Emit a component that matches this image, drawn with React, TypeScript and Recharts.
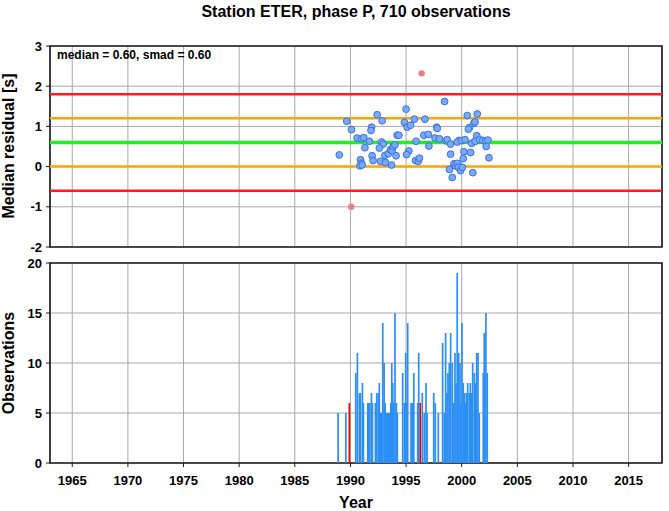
import React from 'react';
import {
  ComposedChart,
  Scatter,
  Bar,
  XAxis,
  YAxis,
  CartesianGrid,
  ReferenceLine,
  ReferenceArea,
} from 'recharts';

// ---------- data ----------
const xTicks = [1965, 1970, 1975, 1980, 1985, 1990, 1995, 2000, 2005, 2010, 2015];
const residualTicks = [-2, -1, 0, 1, 2, 3];
const countTicks = [0, 5, 10, 15, 20];

const pointYears = [
  1989.0, 1989.67, 1990.1, 1990.6, 1991.0, 1991.2, 1991.3, 1990.9, 1991.0, 1990.85,
  1991.05, 1991.7, 1991.9, 1991.85, 1991.95, 1992.04, 1992.4, 1992.85, 1992.8, 1992.95,
  1992.6, 1992.7, 1993.15, 1993.7, 1993.1, 1993.4, 1993.6, 1993.75, 1993.85, 1994.0,
  1994.1, 1994.2, 1994.35, 1995.0, 1994.85, 1995.1, 1995.25, 1995.05, 1995.75, 1995.4,
  1995.9, 1995.85, 1996.1, 1996.2, 1996.7, 1996.6, 1997.0, 1997.05, 1997.75, 1997.8,
  1997.6, 1998.0, 1998.46, 1998.6, 1998.7, 1999.0, 1999.0, 1998.9, 1999.15, 1999.3,
  1999.45, 1999.6, 1999.7, 1999.9, 2000.05, 2000.14, 2000.2, 2000.8, 1999.75, 1999.6,
  2000.0, 2000.3, 2000.5, 2000.7, 2000.6, 2001.0, 2001.1, 2001.2, 2001.4, 2001.35,
  2000.9, 2001.2, 2001.6, 2001.9, 2002.15, 2002.36, 2002.2, 2002.45,
];
const pointResiduals = [
  0.29, 1.13, 0.92, 0.71, 0.69, 0.72, 0.47, 0.17, 0.08, 0.02,
  0.04, 0.63, 0.98, 0.9, 0.27, 0.15, 1.29, 1.14, 0.61, 0.56,
  0.46, 0.13, 0.1, 0.04, 0.28, 0.32, 0.42, 0.4, 0.5, 0.54,
  0.27, 0.78, 0.78, 1.43, 1.1, 0.98, 0.39, 0.3, 1.18, 1.03,
  0.63, 0.15, 0.13, 0.21, 1.18, 0.78, 0.8, 0.51, 0.98, 0.95,
  0.71, 0.69, 1.62, 0.64, 0.67, 0.56, 0.31, -0.07, -0.27, 0.07,
  0.02, 0.08, -0.02, -0.1, -0.02, 0.2, 0.37, 0.35, 0.65, 0.61,
  0.65, 0.67, 1.27, 0.97, 0.93, -0.15, 1.08, 1.11, 1.31, 0.77,
  0.58, 0.63, 0.67, 0.65, 0.64, 0.66, 0.5, 0.22,
];

const outlierYears = [1990.07, 1996.4];
const outlierResiduals = [-1.0, 2.32];

const barYears = [
  1988.9, 1989.59, 1989.91, 1990.48, 1990.63, 1990.81, 1990.9, 1991.08, 1991.17, 1991.56,
  1991.65, 1991.74, 1991.89, 1991.98, 1992.25, 1992.37, 1992.51, 1992.6, 1992.73, 1992.82,
  1992.91, 1993.03, 1993.12, 1993.23, 1993.32, 1993.41, 1993.54, 1993.63, 1993.72, 1993.81,
  1993.9, 1994.01, 1994.13, 1994.22, 1994.7, 1994.85, 1994.97, 1995.06, 1995.15, 1995.45,
  1995.56, 1995.7, 1996.05, 1996.14, 1996.28, 1996.46, 1996.64, 1996.8, 1996.89, 1997.49,
  1997.63, 1997.9, 1998.29, 1998.44, 1998.56, 1998.68, 1998.77, 1998.89, 1999.01, 1999.16,
  1999.28, 1999.4, 1999.49, 1999.6, 1999.73, 1999.85, 1999.94, 2000.03, 2000.15, 2000.24,
  2000.33, 2000.42, 2000.54, 2000.69, 2000.78, 2000.9, 2000.99, 2001.14, 2001.26, 2001.35,
  2001.47, 2001.58, 2001.94, 2002.03, 2002.18, 2002.3,
];
const barCounts = [
  5, 5, 6, 9, 11, 7, 7, 8, 6, 6,
  6, 6, 7, 6, 6, 7, 7, 8, 5, 5,
  14, 10, 6, 5, 5, 5, 5, 6, 10, 8,
  6, 15, 6, 5, 9, 6, 11, 6, 14, 6,
  6, 9, 6, 11, 6, 7, 5, 8, 5, 7,
  6, 5, 12, 5, 13, 7, 9, 10, 13, 10,
  6, 11, 8, 19, 11, 10, 6, 14, 8, 7,
  6, 7, 8, 7, 8, 7, 10, 9, 8, 11,
  11, 5, 9, 13, 15, 9,
];
const redBarYears = [1989.91, 1996.28];

// ---------- tables built from the arrays ----------
const points = pointYears.map((year, i) => ({ year, res: pointResiduals[i] }));
const outliers = outlierYears.map((year, i) => ({ year, res: outlierResiduals[i] }));
const bars = barYears.map((year, i) => ({
  year,
  count: barCounts[i],
  red: redBarYears.includes(year),
}));

const FONT = '"Liberation Sans", Arial, Helvetica, sans-serif';
const tickStyle = { fontSize: 13, fontWeight: 700, fill: '#000', fontFamily: FONT };
const GRID = '#a9a9a9';
const FRAME = '#1a1a1a';

const BlueDot = (p: any) =>
  p.cx == null ? null : (
    <circle cx={p.cx} cy={p.cy} r={3.4} fill="#78abf5" stroke="#3b6fe4" strokeWidth={1} />
  );
const RedDot = (p: any) =>
  p.cx == null ? null : <circle cx={p.cx} cy={p.cy} r={3.2} fill="#f57b7b" />;

const ThinBar = (p: any) => {
  if (p.x == null || !p.height) return null;
  const cx = p.x + p.width / 2;
  return (
    <rect
      x={cx - 0.85}
      y={p.y}
      width={1.7}
      height={p.height}
      fill={p.payload && p.payload.red ? '#ff0000' : '#2b8ff5'}
    />
  );
};

export default function App() {
  return (
    <div
      style={{
        position: 'absolute',
        left: 0,
        top: 0,
        width: 669,
        height: 511,
        background: '#fff',
        fontFamily: FONT,
        overflow: 'hidden',
      }}
    >
      <div
        style={{
          position: 'absolute',
          left: 50,
          width: 612,
          top: 3,
          textAlign: 'center',
          fontSize: 16,
          fontWeight: 700,
          lineHeight: '18px',
        }}
      >
        Station ETER, phase P, 710 observations
      </div>

      {/* top panel */}
      <div style={{ position: 'absolute', left: 0, top: 0 }}>
        <ComposedChart width={669} height={256} margin={{ top: 46, right: 7, bottom: 9, left: 8 }}>
          <CartesianGrid stroke={GRID} strokeWidth={1} />
          <XAxis
            dataKey="year"
            type="number"
            domain={[1963, 2018]}
            ticks={xTicks}
            allowDataOverflow
            height={0}
            axisLine={false}
            tickSize={4}
            tickLine={{ stroke: FRAME }}
            tickFormatter={() => ''}
          />
          <YAxis
            dataKey="res"
            type="number"
            domain={[-2, 3]}
            ticks={residualTicks}
            allowDataOverflow
            width={42}
            axisLine={false}
            tickSize={4}
            tickMargin={4}
            tickLine={{ stroke: FRAME }}
            tick={tickStyle}
          />
          <ReferenceLine y={1.8} stroke="#ff1c1c" strokeWidth={2.5} />
          <ReferenceLine y={1.2} stroke="#ffa500" strokeWidth={2.5} />
          <ReferenceLine y={0.6} stroke="#22ee22" strokeWidth={3.5} />
          <ReferenceLine y={0} stroke="#ffa500" strokeWidth={2.5} />
          <ReferenceLine y={-0.6} stroke="#ff1c1c" strokeWidth={2.5} />
          <Scatter data={points} dataKey="res" shape={BlueDot} isAnimationActive={false} />
          <Scatter data={outliers} dataKey="res" shape={RedDot} isAnimationActive={false} />
          <ReferenceArea
            x1={1963}
            x2={2018}
            y1={-2}
            y2={3}
            fill="none"
            fillOpacity={0}
            stroke={FRAME}
            strokeWidth={1.6}
          />
        </ComposedChart>
      </div>

      {/* bottom panel */}
      <div style={{ position: 'absolute', left: 0, top: 255 }}>
        <ComposedChart
          width={669}
          height={256}
          data={bars}
          margin={{ top: 8, right: 7, bottom: 8, left: 8 }}
        >
          <CartesianGrid stroke={GRID} strokeWidth={1} />
          <XAxis
            dataKey="year"
            type="number"
            domain={[1963, 2018]}
            ticks={xTicks}
            allowDataOverflow
            height={40}
            axisLine={false}
            tickSize={4}
            tickMargin={9}
            tickLine={{ stroke: FRAME }}
            tick={tickStyle}
          />
          <YAxis
            type="number"
            domain={[0, 20]}
            ticks={countTicks}
            allowDataOverflow
            width={42}
            axisLine={false}
            tickSize={4}
            tickMargin={4}
            tickLine={{ stroke: FRAME }}
            tick={tickStyle}
          />
          <Bar dataKey="count" barSize={2} shape={ThinBar} isAnimationActive={false} />
          <ReferenceArea
            x1={1963}
            x2={2018}
            y1={0}
            y2={20}
            fill="none"
            fillOpacity={0}
            stroke={FRAME}
            strokeWidth={1.6}
          />
        </ComposedChart>
      </div>

      {/* axis titles */}
      <div
        style={{
          position: 'absolute',
          left: 9,
          top: 146,
          transform: 'translate(-50%, -50%) rotate(-90deg)',
          fontSize: 16,
          fontWeight: 700,
          lineHeight: '16px',
          whiteSpace: 'nowrap',
        }}
      >
        Median residual [s]
      </div>
      <div
        style={{
          position: 'absolute',
          left: 9,
          top: 363,
          transform: 'translate(-50%, -50%) rotate(-90deg)',
          fontSize: 16,
          fontWeight: 700,
          lineHeight: '16px',
          whiteSpace: 'nowrap',
        }}
      >
        Observations
      </div>
      <div
        style={{
          position: 'absolute',
          left: 50,
          width: 612,
          top: 494,
          textAlign: 'center',
          fontSize: 16,
          fontWeight: 700,
          lineHeight: '18px',
        }}
      >
        Year
      </div>
      <div
        style={{
          position: 'absolute',
          left: 57,
          top: 47,
          fontSize: 12,
          fontWeight: 700,
          lineHeight: '16px',
          whiteSpace: 'nowrap',
        }}
      >
        median = 0.60, smad = 0.60
      </div>
    </div>
  );
}
